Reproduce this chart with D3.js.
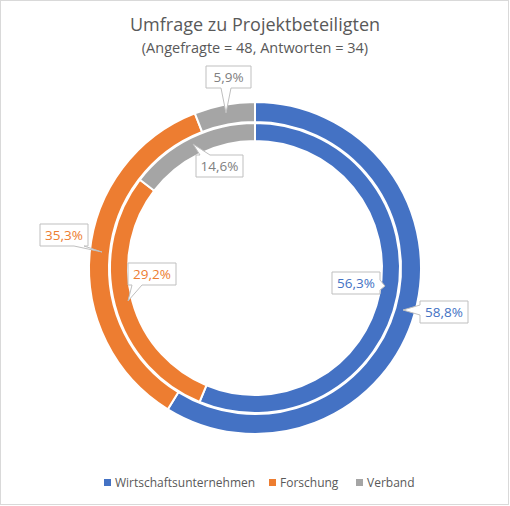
<!DOCTYPE html><html><head><meta charset="utf-8"><script src="https://cdn.jsdelivr.net/npm/d3@7"></script>
<style>body{margin:0;background:#fff}</style></head><body><svg id="c" width="510" height="506"></svg><script>
const categories=["Wirtschaftsunternehmen","Forschung","Verband"];
const outerValues=[58.8,35.3,5.9];
const innerValues=[56.3,29.2,14.6];
const colors=["#4472C4","#ED7D31","#A5A5A5"];
const labelColors=["#4472C4","#ED7D31","#808080"];
// callout boxes: [x,y,w,h,targetX,targetY]
const outerBoxes=[[420,301,48,22,403,310],[40,224,48,22,102,252],[206,66,45,22,226,113]];
const innerBoxes=[[332,272,48,22,385,286],[128,263,48,22,128,301],[196,155,47,22,193,144]];
const svg=d3.select("#c");
svg.append("rect").attr("x",0.5).attr("y",0.5).attr("width",508).attr("height",504).attr("fill","#fff").attr("stroke","#d9d9d9");
svg.append("text").attr("x",255).attr("y",31).attr("text-anchor","middle").attr("font-family","Open Sans, sans-serif").attr("font-size",18).attr("fill","#595959").text("Umfrage zu Projektbeteiligten");
svg.append("text").attr("x",255).attr("y",53).attr("text-anchor","middle").attr("font-family","Open Sans, sans-serif").attr("font-size",14.5).attr("fill","#595959").text("(Angefragte = 48, Antworten = 34)");
const g=svg.append("g").attr("transform","translate(255,268)");
const pie=d3.pie().sort(null);
function ring(vals,r0,r1){
  const arc=d3.arc().innerRadius(r0).outerRadius(r1);
  g.selectAll(null).data(pie(vals)).enter().append("path").attr("d",arc).attr("fill",(d,i)=>colors[i]).attr("stroke","#fff").attr("stroke-width",2);
}
ring(outerValues,146,166);ring(innerValues,127,145);
function callout(b,val,col){
  const [x,y,w,h,tx,ty]=b;const bw=5;
  let side;
  if(ty<y)side="t";else if(ty>y+h)side="b";else if(tx<x)side="l";else side="r";
  const cl=(v,a,c)=>Math.max(a+bw+4,Math.min(c-bw-4,v));
  let p=[];
  p.push([x,y]);
  if(side==="t"){const c=cl(tx,x,x+w);p.push([c-bw,y],[tx,ty],[c+bw,y]);}
  p.push([x+w,y]);
  if(side==="r"){const c=cl(ty,y,y+h);p.push([x+w,c-bw],[tx,ty],[x+w,c+bw]);}
  p.push([x+w,y+h]);
  if(side==="b"){const c=cl(tx,x,x+w);p.push([c+bw,y+h],[tx,ty],[c-bw,y+h]);}
  p.push([x,y+h]);
  if(side==="l"){const c=cl(ty,y,y+h);p.push([x,c+bw],[tx,ty],[x,c-bw]);}
  svg.append("path").attr("d","M"+p.map(q=>q.join(",")).join("L")+"Z").attr("fill","#fff").attr("stroke","#bfbfbf").attr("stroke-width",1);
  svg.append("text").attr("x",x+w/2).attr("y",y+h/2+5).attr("text-anchor","middle").attr("font-family","Open Sans, sans-serif").attr("font-size",13.5).attr("fill",col).text(val.toFixed(1).replace(".",",")+"%");
}
outerValues.forEach((v,i)=>callout(outerBoxes[i],v,labelColors[i]));
innerValues.forEach((v,i)=>callout(innerBoxes[i],v,labelColors[i]));
const legX=[104,269,356];
categories.forEach((c,i)=>{
  svg.append("rect").attr("x",legX[i]).attr("y",479).attr("width",7).attr("height",7).attr("fill",colors[i]);
  svg.append("text").attr("x",legX[i]+11).attr("y",487).attr("font-family","Open Sans, sans-serif").attr("font-size",12).attr("fill","#595959").text(c);
});
</script></body></html>
